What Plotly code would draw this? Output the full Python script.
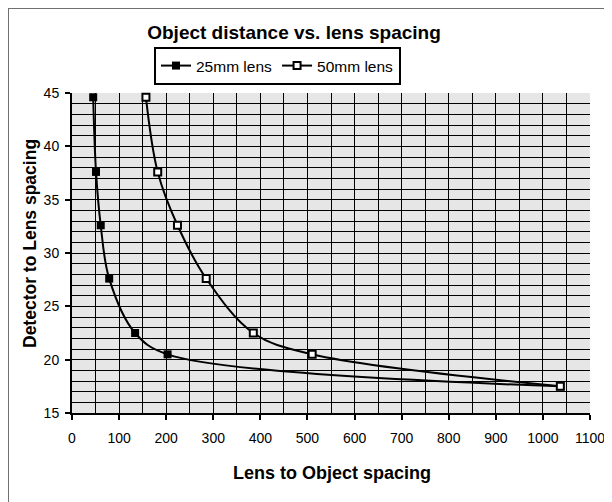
import plotly.graph_objects as go

detector_spacing = [44.6, 37.6, 32.6, 27.6, 22.5, 20.5, 17.5]
object_25mm = [45, 51, 61, 79, 134, 203, 1037]
object_50mm = [157, 182, 224, 285, 385, 510, 1037]

# the page body adds an 8px offset, so the figure is laid out in shifted coordinates
OFF = 8
W, H = 612 - OFF, 502 - OFF
L, R, T, B = 72 - OFF, 590 - OFF, 93 - OFF, 413 - OFF

fig = go.Figure()
fig.add_trace(go.Scatter(
    x=object_25mm, y=detector_spacing, name="25mm lens", mode="lines+markers",
    line=dict(color="black", width=2, shape="spline", smoothing=1),
    marker=dict(symbol="square", size=8, color="black"), cliponaxis=False))
fig.add_trace(go.Scatter(
    x=object_50mm, y=detector_spacing, name="50mm lens", mode="lines+markers",
    line=dict(color="black", width=2, shape="spline", smoothing=1),
    marker=dict(symbol="square", size=7, color="white", line=dict(color="black", width=2)),
    cliponaxis=False))

def px(x):
    return (x - OFF - L) / (R - L)

def py(y):
    return (B - (y - OFF)) / (B - T)

FONT = "Liberation Sans, Arial, sans-serif"

fig.update_layout(
    width=W, height=H,
    margin=dict(l=L, r=W - R, t=T, b=H - B, autoexpand=False),
    paper_bgcolor="white", plot_bgcolor="#e6e6e6",
    font=dict(family=FONT, size=14, color="black"),
    title=dict(text="<b>Object distance vs. lens spacing</b>", x=px(294), xanchor="center",
               xref="paper", y=1 - (32 - OFF) / H, yanchor="middle", font=dict(size=19)),
    showlegend=True,
    legend=dict(orientation="h", x=px(154), xanchor="left", y=py(47), yanchor="top",
                bordercolor="black", borderwidth=2, bgcolor="white",
                font=dict(size=15.5), itemwidth=30, tracegroupgap=0),
    xaxis=dict(range=[0, 1100], dtick=100, tick0=0, ticks="outside", ticklen=5,
               tickcolor="black", tickwidth=2, showgrid=True, gridcolor="black", gridwidth=1,
               minor=dict(dtick=50, showgrid=True, gridcolor="black", gridwidth=1),
               showline=True, linecolor="black", linewidth=2, zeroline=False,
               tickfont=dict(size=14), ticklabelstandoff=6, automargin=False, fixedrange=True),
    yaxis=dict(range=[15, 45], dtick=5, tick0=15, ticks="outside", ticklen=5,
               tickcolor="black", tickwidth=2, showgrid=True, gridcolor="black", gridwidth=1,
               minor=dict(dtick=1, showgrid=True, gridcolor="black", gridwidth=1),
               showline=True, linecolor="black", linewidth=2, zeroline=False,
               tickfont=dict(size=14), ticklabelstandoff=3, automargin=False, fixedrange=True),
    annotations=[
        dict(text="<b>Lens to Object spacing</b>", xref="paper", yref="paper",
             x=px(332), y=py(473), xanchor="center", yanchor="middle",
             showarrow=False, font=dict(size=18)),
        dict(text="<b>Detector to Lens spacing</b>", xref="paper", yref="paper",
             x=px(30), y=py(244), xanchor="center", yanchor="middle", textangle=-90,
             showarrow=False, font=dict(size=17.5)),
    ],
    shapes=[dict(type="rect", xref="paper", yref="paper",
                 x0=px(OFF), x1=px(W + 40), y0=py(H + 40), y1=py(OFF),
                 line=dict(color="#707070", width=2), fillcolor="rgba(0,0,0,0)", layer="below")],
)

fig.write_html("out.html")
